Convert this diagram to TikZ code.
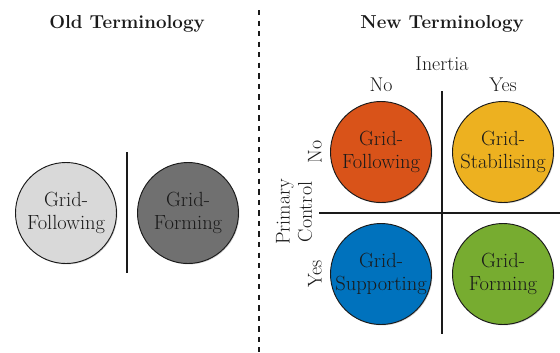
\documentclass[tikz,border=0pt]{standalone}
\usepackage{tikz}
\usetikzlibrary{positioning,shadows}
\definecolor{ink}{HTML}{1A1A1A}
\definecolor{glight}{HTML}{D9D9D9}
\definecolor{gdark}{HTML}{707070}
\definecolor{cfol}{HTML}{D95319}
\definecolor{cstab}{HTML}{EDB120}
\definecolor{csup}{HTML}{0072BD}
\definecolor{cform}{HTML}{77AC30}
\tikzset{
  ttl/.style={font=\fontsize{16}{18}\selectfont\bfseries, text=ink},
  lbl/.style={font=\fontsize{17}{19}\selectfont, text=ink, align=center},
  term/.style={circle, draw=ink, line width=0.8pt, minimum size=3.03cm, inner sep=0pt,
               align=center, font=\fontsize{17.5}{20}\selectfont, text=ink,
               drop shadow={shadow xshift=0.8pt, shadow yshift=-0.8pt, opacity=0.35}},
  sep/.style={draw=ink, line width=1pt},
  split/.style={draw=ink, line width=0.9pt, dash pattern=on 4.5pt off 4.5pt},
}
\begin{document}
\begin{tikzpicture}[x=0.03cm, y=-0.03cm]
\useasboundingbox (0,0) rectangle (560,352);
% titles
\node[ttl] (oldt) at (127,24) {Old Terminology};
\node[ttl] (newt) at (442,24) {New Terminology};
% divider between both halves
\coordinate (dtop) at (259,10);
\coordinate (dbot) at (259,352);
\draw[split] (dtop) -- (dbot);
% old terminology
\node[term, fill=glight] (ofol) at (66,213)  {Grid-\\Following};
\node[term, fill=gdark]  (oform) at (188,213) {Grid-\\Forming};
\coordinate (otop) at (127,152);
\coordinate (obot) at (127,273);
\draw[sep] (otop) -- (obot);
% new terminology: axes
\node[lbl] (inertia) at (442,64) {Inertia};
\node[lbl] (ino)  at (381,85) {No};
\node[lbl] (iyes) at (503,85) {Yes};
\node[lbl, rotate=90] (pc)   at (294,212) {Primary\\Control};
\node[lbl, rotate=90] (pno)  at (315,152) {No};
\node[lbl, rotate=90] (pyes) at (315,274) {Yes};
\coordinate (vtop) at (442,91);
\coordinate (vbot) at (442,334);
\coordinate (hl) at (319,213);
\coordinate (hr) at (560,213);
\draw[sep] (vtop) -- (vbot);
\draw[sep] (hl) -- (hr);
% new terminology: quadrants
\node[term, fill=cfol]  (nfol)  at (381,152) {Grid-\\Following};
\node[term, fill=cstab] (nstab) at (503,152) {Grid-\\Stabilising};
\node[term, fill=csup]  (nsup)  at (381,274) {Grid-\\Supporting};
\node[term, fill=cform] (nform) at (503,274) {Grid-\\Forming};
\end{tikzpicture}
\end{document}
